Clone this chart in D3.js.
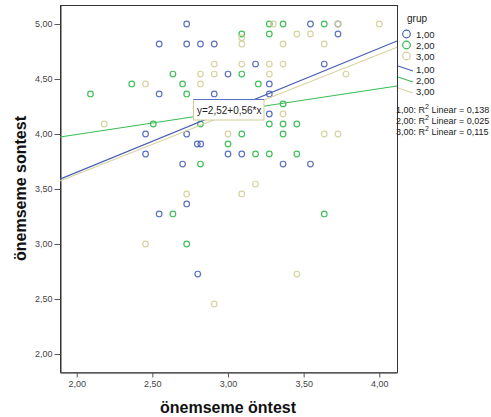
<!DOCTYPE html>
<html>
<head>
<meta charset="utf-8">
<script src="https://cdn.jsdelivr.net/npm/d3@7"></script>
<style>
  body { margin: 0; background: #fff; }
  svg { font-family: "Liberation Sans", Arial, sans-serif; }
</style>
</head>
<body>
<div id="chart"></div>
<script>
// önemseme öntest (x) / önemseme sontest (y), one list per grup
const grup1 = [
  [2.727, 5.000], [2.545, 4.818], [2.727, 4.818], [2.818, 4.818], [2.909, 4.818],
  [3.000, 4.545], [2.545, 4.364], [2.909, 4.364], [2.455, 4.000], [2.727, 4.000],
  [2.797, 3.909], [2.820, 3.909], [2.455, 3.818], [3.000, 3.818], [2.700, 3.727],
  [2.727, 3.364], [2.545, 3.273], [2.800, 2.727], [3.545, 5.000], [3.727, 5.000],
  [3.727, 4.909], [3.182, 4.636], [3.636, 4.636], [3.273, 4.455], [3.273, 4.364],
  [3.273, 4.182], [3.091, 3.818], [3.364, 3.727], [3.545, 3.727]
];
const grup2 = [
  [2.636, 4.545], [2.364, 4.455], [2.700, 4.455], [2.091, 4.364], [2.727, 4.364],
  [2.506, 4.091], [2.818, 4.091], [3.273, 5.000], [3.364, 5.000], [3.636, 5.000],
  [3.091, 4.909], [3.273, 4.909], [3.091, 4.545], [3.200, 4.455], [3.364, 4.273],
  [3.273, 4.091], [3.364, 4.091], [3.455, 4.091], [3.091, 4.000], [3.364, 4.000],
  [3.000, 3.909], [2.818, 3.727], [2.636, 3.273], [2.727, 3.000], [3.182, 3.818],
  [3.273, 3.818], [3.455, 3.818], [3.636, 3.273]
];
const grup3 = [
  [2.909, 4.636], [2.818, 4.545], [2.909, 4.545], [2.455, 4.455], [2.818, 4.455],
  [2.182, 4.091], [3.000, 4.000], [3.300, 5.000], [3.727, 5.000], [4.000, 5.000],
  [3.455, 4.909], [3.545, 4.909], [3.091, 4.875], [3.091, 4.818], [3.364, 4.818],
  [3.636, 4.818], [3.091, 4.636], [3.273, 4.636], [3.364, 4.636], [3.273, 4.545],
  [3.780, 4.545], [3.364, 4.182], [3.636, 4.000], [3.727, 4.000], [2.727, 3.455],
  [3.182, 3.545], [3.091, 3.455], [2.455, 3.000], [3.455, 2.727], [2.909, 2.455]
];

const grupLabels = ['1,00', '2,00', '3,00'];
const fitIntercept = [2.524, 3.58, 2.541];
const fitSlope = [0.564, 0.208, 0.546];
const r2Labels = ['0,138', '0,025', '0,115'];
const xTicks = [2, 2.5, 3, 3.5, 4];
const yTicks = [2, 2.5, 3, 3.5, 4, 4.5, 5];
const fitLabel = 'y=2,52+0,56*x';

const colors = ['#4a62b8', '#2eb848', '#d3ce97'];
const lineColors = ['#4a5fb5', '#3cbc55', '#d8d3a2'];

const width = 491, height = 417;
const plot = { left: 60, top: 5, right: 397, bottom: 372 };

const svg = d3.select('#chart').append('svg')
  .attr('width', width)
  .attr('height', height);

const x = d3.scaleLinear().domain([1.8896, 4.117]).range([plot.left, plot.right]);
const y = d3.scaleLinear().domain([1.8364, 5.1727]).range([plot.bottom, plot.top]);

const comma = v => d3.format('.2f')(v).replace('.', ',');

// frame
svg.append('rect')
  .attr('x', plot.left + 0.5).attr('y', plot.top + 0.5)
  .attr('width', plot.right - plot.left).attr('height', plot.bottom - plot.top)
  .attr('fill', '#fff').attr('stroke', '#333');

// axes
let yAxis = svg.append('g')
  .attr('transform', `translate(${plot.left + 0.5},0)`)
  .call(d3.axisLeft(y).tickValues(yTicks).tickFormat(comma).tickSize(6).tickSizeOuter(0).tickPadding(2));
let xAxis = svg.append('g')
  .attr('transform', `translate(0,${plot.bottom + 0.5})`)
  .call(d3.axisBottom(x).tickValues(xTicks).tickFormat(comma).tickSize(5).tickSizeOuter(0).tickPadding(3));

[xAxis, yAxis].forEach(a => {
  a.selectAll('text').attr('font-size', 9).attr('fill', '#444')
    .attr('font-family', '"Liberation Sans", Arial, sans-serif');
  a.selectAll('line').attr('stroke', '#555');
});
yAxis.select('.domain').attr('stroke', '#333');
xAxis.select('.domain').attr('stroke', '#666').attr('stroke-width', 1.5);

// points
const groups = [grup1, grup2, grup3];
groups.forEach((pts, i) => {
  svg.append('g').selectAll('circle')
    .data(pts)
    .enter().append('circle')
    .attr('cx', d => x(d[0]))
    .attr('cy', d => y(d[1]))
    .attr('r', 2.8)
    .attr('fill', 'none')
    .attr('stroke', colors[i])
    .attr('stroke-width', 1.2)
    .attr('stroke-opacity', 0.9);
});

// fit lines across the plot
const xMin = x.domain()[0], xMax = x.domain()[1];
groups.forEach((pts, i) => {
  svg.append('line')
    .attr('x1', x(xMin)).attr('y1', y(fitIntercept[i] + fitSlope[i] * xMin))
    .attr('x2', x(xMax)).attr('y2', y(fitIntercept[i] + fitSlope[i] * xMax))
    .attr('stroke', lineColors[i])
    .attr('stroke-width', 1.1);
});

// fit equation label
let box = svg.append('g').attr('transform', 'translate(193.5,99.5)');
box.append('rect')
  .attr('width', 70.5).attr('height', 20.5)
  .attr('fill', '#fff').attr('stroke', '#cfcb98');
box.append('line')
  .attr('x1', 0).attr('y1', 0).attr('x2', 70.5).attr('y2', 0)
  .attr('stroke', '#5a6fc0');
box.append('text')
  .attr('x', 3.5).attr('y', 14.5)
  .attr('font-size', 10).attr('fill', '#222')
  .text(fitLabel);

// legend
let legend = svg.append('g');
legend.append('text')
  .attr('x', 407).attr('y', 22)
  .attr('font-size', 10).attr('fill', '#222')
  .text('grup');

grupLabels.forEach((lab, i) => {
  legend.append('circle')
    .attr('cx', 406.5).attr('cy', 34 + i * 11)
    .attr('r', 3.8)
    .attr('fill', 'none').attr('stroke', colors[i]).attr('stroke-width', 1.2);
  legend.append('text')
    .attr('x', 416).attr('y', 37.5 + i * 11)
    .attr('font-size', 9.5).attr('fill', '#222')
    .text(lab);
  legend.append('line')
    .attr('x1', 398).attr('y1', 66 + i * 11)
    .attr('x2', 413).attr('y2', 71 + i * 11)
    .attr('stroke', lineColors[i]).attr('stroke-width', 1.1);
  legend.append('text')
    .attr('x', 416).attr('y', 72.5 + i * 11)
    .attr('font-size', 9.5).attr('fill', '#222')
    .text(lab);

  let t = legend.append('text')
    .attr('x', 396).attr('y', 112.5 + i * 11)
    .attr('font-size', 9).attr('fill', '#222');
  t.append('tspan').text(lab + ': R');
  t.append('tspan').attr('dy', -3.5).attr('font-size', 7).text('2');
  t.append('tspan').attr('dy', 3.5).text(' Linear = ' + r2Labels[i]);
});

// axis titles
svg.append('text')
  .attr('x', (plot.left + plot.right) / 2 - 0.5).attr('y', 412.5)
  .attr('text-anchor', 'middle')
  .attr('font-size', 16).attr('font-weight', 'bold').attr('fill', '#111')
  .text('önemseme öntest');

svg.append('text')
  .attr('transform', `translate(25.5,${(plot.top + plot.bottom) / 2}) rotate(-90)`)
  .attr('text-anchor', 'middle')
  .attr('font-size', 16).attr('font-weight', 'bold').attr('fill', '#111')
  .text('önemseme sontest');
</script>
</body>
</html>
